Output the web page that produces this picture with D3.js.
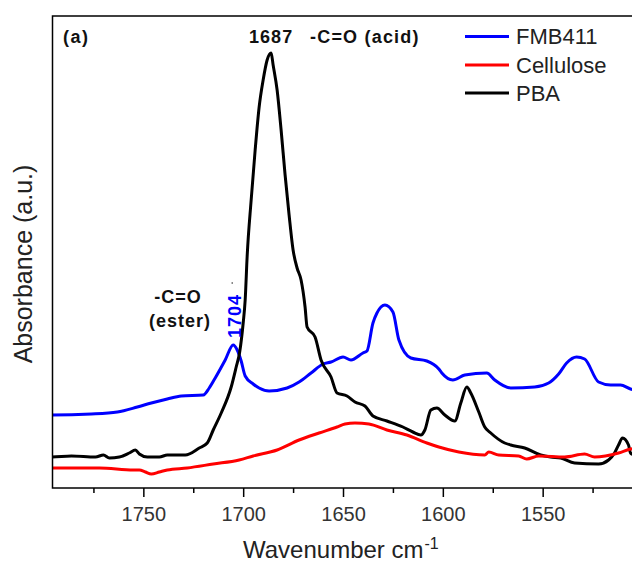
<!DOCTYPE html>
<html>
<head>
<meta charset="utf-8">
<script src="https://cdn.jsdelivr.net/npm/d3@7/dist/d3.min.js"></script>
<style>
  html, body { margin: 0; padding: 0; background: #fff; }
  svg { display: block; font-family: "Liberation Sans", Arial, sans-serif; }
</style>
</head>
<body>
<svg id="chart" width="632" height="565"></svg>
<script>
// ---- data ----
const seriesNames = ["FMB411", "Cellulose", "PBA"];
const seriesColors = ["#0000ff", "#ff0000", "#000000"];

const fmbWave = [1800, 1796, 1776, 1763, 1753, 1746, 1738, 1731, 1720, 1717, 1714, 1709, 1705, 1703, 1701, 1699, 1695, 1692, 1687, 1678, 1672, 1666, 1660, 1656, 1650, 1646, 1640, 1638, 1635, 1633, 1629, 1625, 1622, 1616, 1608, 1602, 1600.5, 1595, 1589, 1578, 1574, 1566, 1554, 1547, 1542, 1538, 1533, 1529, 1522, 1516, 1511, 1506, 1500];
const fmbAbs  = [73, 73, 74, 76, 81, 85, 89, 92, 93, 100, 110, 128, 143, 138, 127, 112, 104, 100, 97, 100, 106, 115, 124, 126, 131, 128, 135, 137, 165, 175, 183, 176, 148, 130, 127, 119, 115, 108, 113, 115, 108, 100, 101, 105, 114, 125, 131, 129, 106, 103, 103, 99, 97];

const celWave = [1800, 1796, 1772, 1755, 1752, 1749, 1746, 1742, 1738, 1728, 1715, 1702, 1695, 1683, 1672, 1662, 1653, 1649, 1644, 1637, 1628, 1618, 1608, 1602, 1592, 1579, 1577, 1572, 1562, 1558, 1552, 1539, 1529, 1524, 1512, 1506, 1500];
const celAbs  = [20, 20, 20, 18, 18, 16, 14, 16, 18, 20, 24, 28, 32, 38, 48, 55, 61, 64, 65, 64, 58, 53, 45, 41, 36, 33, 36, 33, 32, 29, 32, 31, 34, 31, 35, 39, 41];

const pbaWave = [1800, 1796, 1786, 1774, 1770, 1767, 1762, 1757, 1754, 1752, 1748, 1742, 1738, 1729, 1722, 1718, 1715, 1711, 1706, 1703.5, 1701.75, 1700, 1699, 1698, 1696, 1694, 1692, 1690, 1688, 1686, 1685, 1683, 1681, 1679, 1677, 1675, 1673, 1671, 1669, 1668, 1664, 1661, 1656, 1653, 1648, 1644, 1639, 1635, 1628, 1620, 1615, 1611, 1609, 1606, 1603, 1599, 1594, 1591, 1588, 1586, 1582, 1579, 1576, 1569, 1566, 1559, 1551, 1546, 1541, 1534, 1522, 1517, 1514, 1512, 1510, 1507, 1506, 1500];
const pbaAbs  = [31, 31, 32, 31, 33, 30, 31, 35, 38, 34, 31, 31, 33, 33, 40, 45, 58, 75, 101, 121, 136, 165, 188, 232, 288, 338, 381, 408, 428, 435, 423, 398, 358, 313, 273, 238, 220, 208, 181, 161, 151, 128, 111, 95, 92, 86, 82, 72, 67, 61, 56, 53, 58, 78, 80, 73, 67, 85, 101, 95, 76, 61, 55, 45, 43, 40, 33, 31, 30, 25, 24, 28, 35, 43, 50, 43, 35, 30];

const majorTicks = [1750, 1700, 1650, 1600, 1550];
const minorTicks = [1775, 1725, 1675, 1625, 1575, 1525];
const xTitle = "Wavenumber cm";
const xTitleSup = "-1";
const yTitle = "Absorbance (a.u.)";

// ---- layout ----
const svg = d3.select("#chart");
const mLeft = 52.5, mRight = 642.5, mTop = 16, mBottom = 488;
const x = d3.scaleLinear().domain([1795.5, 1500]).range([mLeft, mRight]);
const y = d3.scaleLinear().domain([0, 472]).range([mBottom, mTop]);
const font = '"Liberation Sans", Arial, sans-serif';

svg.append("defs").append("clipPath").attr("id", "plotclip")
  .append("rect").attr("x", mLeft).attr("y", mTop).attr("width", mRight - mLeft).attr("height", mBottom - mTop);

// lines
const seriesData = [
  fmbWave.map((w, i) => [w, fmbAbs[i]]),
  celWave.map((w, i) => [w, celAbs[i]]),
  pbaWave.map((w, i) => [w, pbaAbs[i]])
];
const line = d3.line().x(d => x(d[0])).y(d => y(d[1])).curve(d3.curveMonotoneX);
const g = svg.append("g").attr("clip-path", "url(#plotclip)");
[0, 2, 1].forEach(i => {
  g.append("path")
    .attr("d", line(seriesData[i].slice().sort((a, b) => b[0] - a[0])))
    .attr("fill", "none")
    .attr("stroke", seriesColors[i])
    .attr("stroke-width", 3)
    .attr("stroke-linejoin", "round")
    .attr("stroke-linecap", "round");
});

// frame
svg.append("rect").attr("x", mLeft).attr("y", mTop).attr("width", mRight - mLeft).attr("height", mBottom - mTop)
  .attr("fill", "none").attr("stroke", "#000").attr("stroke-width", 1.5);

// x axis
const axMajor = svg.append("g").attr("transform", `translate(0,${mBottom})`)
  .call(d3.axisBottom(x).tickValues(majorTicks).tickSize(9).tickPadding(10).tickFormat(d3.format("d")));
const axMinor = svg.append("g").attr("transform", `translate(0,${mBottom})`)
  .call(d3.axisBottom(x).tickValues(minorTicks).tickSize(5).tickFormat(""));
[axMajor, axMinor].forEach(a => {
  a.select(".domain").remove();
  a.selectAll(".tick line").attr("stroke", "#000").attr("stroke-width", 1.5);
});
axMajor.selectAll(".tick text").attr("font-family", font).attr("font-size", 20).attr("fill", "#333");

// axis titles
const xt = svg.append("text").attr("x", 243).attr("y", 558)
  .attr("font-family", font).attr("font-size", 24).attr("fill", "#222");
xt.append("tspan").text(xTitle);
xt.append("tspan").attr("font-size", 16).attr("dy", -9).attr("dx", 1).text(xTitleSup);

svg.append("text").attr("transform", "translate(32,264) rotate(-90)")
  .attr("text-anchor", "middle").attr("font-family", font).attr("font-size", 25).attr("fill", "#222")
  .text(yTitle);

// annotations
svg.append("text").attr("x", 63).attr("y", 43).attr("font-family", font).attr("font-weight", "bold")
  .attr("font-size", 18).attr("letter-spacing", 1.5).attr("fill", "#111").text("(a)");
svg.append("text").attr("x", x(1686)).attr("y", 43).attr("text-anchor", "middle").attr("font-family", font)
  .attr("font-weight", "bold").attr("font-size", 18).attr("letter-spacing", 1).attr("fill", "#111").text("1687");
svg.append("text").attr("x", 310).attr("y", 43).attr("font-family", font)
  .attr("font-weight", "bold").attr("font-size", 18).attr("letter-spacing", 1.2).attr("fill", "#111").text("-C=O (acid)");
svg.append("text").attr("x", 178).attr("y", 303).attr("text-anchor", "middle").attr("font-family", font)
  .attr("font-weight", "bold").attr("font-size", 18).attr("letter-spacing", 1).attr("fill", "#111").text("-C=O");
svg.append("text").attr("x", 180).attr("y", 327).attr("text-anchor", "middle").attr("font-family", font)
  .attr("font-weight", "bold").attr("font-size", 18).attr("letter-spacing", 1).attr("fill", "#111").text("(ester)");
svg.append("text").attr("transform", `translate(${x(1704) + 6},316) rotate(-90)`).attr("text-anchor", "middle")
  .attr("font-family", font).attr("font-weight", "bold").attr("font-size", 18).attr("letter-spacing", 1)
  .attr("fill", "#0000ff").text("1704");
svg.append("circle").attr("cx", x(1705.5)).attr("cy", 283).attr("r", 0.8).attr("fill", "#333");

// legend
const legY = [36.5, 65, 93];
seriesNames.forEach((n, i) => {
  svg.append("line").attr("x1", 465).attr("x2", 509).attr("y1", legY[i]).attr("y2", legY[i])
    .attr("stroke", seriesColors[i]).attr("stroke-width", 3);
  svg.append("text").attr("x", 516).attr("y", legY[i] + 7.5).attr("font-family", font)
    .attr("font-size", 22).attr("fill", "#222").text(n);
});
</script>
</body>
</html>
